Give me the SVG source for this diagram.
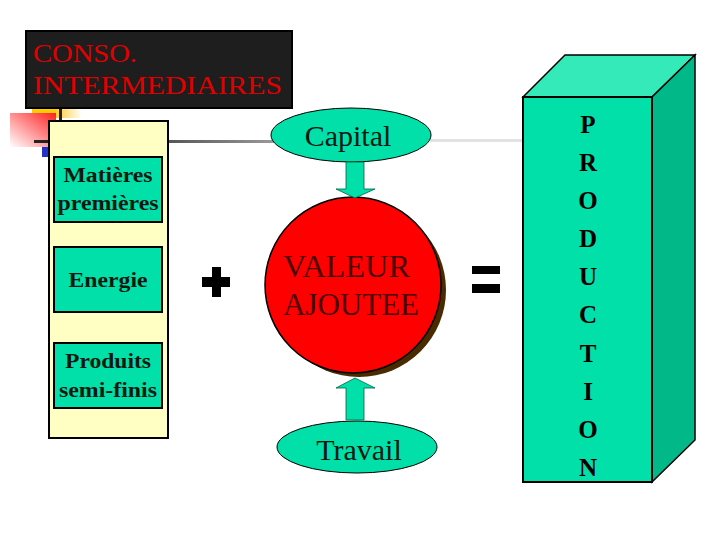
<svg xmlns="http://www.w3.org/2000/svg" width="720" height="540" viewBox="0 0 720 540">
<defs>
<style>
.tnr{font-family:"Liberation Serif","Times New Roman",serif}
.box{fill:#00E0A8;stroke:#000;stroke-width:2}
.lbl{font-family:"Liberation Serif",serif;font-weight:bold;font-size:21px;fill:#0a1a10;text-anchor:middle}
.ell{fill:#00E0A8;stroke:#000;stroke-width:1}
.ar{fill:#00E0A8;stroke:#006040;stroke-width:0.8}
.op{fill:#000}
.pl{font-family:"Liberation Serif",serif;font-weight:bold;font-size:25px;fill:#000;text-anchor:middle}
</style>
<linearGradient id="redg" x1="1" y1="0" x2="0" y2="1">
<stop offset="0" stop-color="#ff2020"/>
<stop offset="1" stop-color="#ffffff"/>
</linearGradient>
<linearGradient id="yelg" x1="0" y1="0" x2="1" y2="0">
<stop offset="0" stop-color="#ffcc33"/>
<stop offset="1" stop-color="#ffffff"/>
</linearGradient>
<linearGradient id="grayL" x1="0" y1="0" x2="1" y2="0">
<stop offset="0" stop-color="#555"/>
<stop offset="1" stop-color="#999"/>
</linearGradient>
</defs>
<rect width="720" height="540" fill="#fff"/>

<g id="decoration">
<rect x="32" y="106" width="24" height="12" fill="#ffcc00"/>
<rect x="56" y="106" width="26" height="12" fill="url(#yelg)"/>
<rect x="10" y="113" width="46" height="34" fill="url(#redg)"/>
<rect x="34" y="140" width="20" height="3" fill="#222"/>
<rect x="42" y="147" width="7" height="10" fill="#2233cc"/>
<rect x="59" y="106" width="3" height="16" fill="#222"/>
<rect x="166" y="140" width="108" height="3" fill="url(#grayL)"/>
<rect x="430" y="139" width="94" height="3" fill="#e2e2e2"/>
</g>

<g id="conso">
<rect x="26" y="31" width="266" height="77" fill="#1e1e1e" stroke="#000" stroke-width="2"/>
<text class="tnr" x="33" y="62" font-size="26" fill="#e00000" textLength="104" lengthAdjust="spacingAndGlyphs">CONSO.</text>
<text class="tnr" x="33" y="94" font-size="26" fill="#e00000" textLength="249" lengthAdjust="spacingAndGlyphs">INTERMEDIAIRES</text>
</g>

<g id="panel">
<rect x="49" y="121" width="119" height="317" fill="#ffffc4" stroke="#000" stroke-width="2"/>
</g>
<g id="matieres">
<rect class="box" x="54" y="157" width="108" height="65"/>
<text class="lbl" x="108" y="182" textLength="89" lengthAdjust="spacingAndGlyphs">Matières</text>
<text class="lbl" x="108" y="210" textLength="101" lengthAdjust="spacingAndGlyphs">premières</text>
</g>
<g id="energie">
<rect class="box" x="54" y="247" width="108" height="65"/>
<text class="lbl" x="108" y="287" textLength="79" lengthAdjust="spacingAndGlyphs">Energie</text>
</g>
<g id="produits">
<rect class="box" x="54" y="343" width="108" height="65"/>
<text class="lbl" x="108" y="368" textLength="86" lengthAdjust="spacingAndGlyphs">Produits</text>
<text class="lbl" x="108" y="397" textLength="98" lengthAdjust="spacingAndGlyphs">semi-finis</text>
</g>

<g id="plus">
<rect class="op" x="212" y="267" width="9" height="30"/>
<rect class="op" x="202" y="277" width="28" height="10"/>
</g>

<g id="valeur">
<circle cx="359" cy="290" r="87" fill="#4a2a00"/>
<circle cx="353" cy="285" r="88" fill="#ff0000" stroke="#000" stroke-width="1.5"/>
<text class="tnr" x="283" y="277" font-size="32" fill="#4a0000" textLength="127" lengthAdjust="spacingAndGlyphs">VALEUR</text>
<text class="tnr" x="283" y="315" font-size="32" fill="#4a0000" textLength="136" lengthAdjust="spacingAndGlyphs">AJOUTEE</text>
</g>

<g id="capital">
<ellipse class="ell" cx="351" cy="135" rx="80" ry="27"/>
<text class="tnr" x="348" y="146" font-size="30" fill="#001a10" text-anchor="middle">Capital</text>
</g>

<g id="travail">
<ellipse class="ell" cx="357" cy="447" rx="80" ry="26"/>
<text class="tnr" x="359" y="460" font-size="30" fill="#001a10" text-anchor="middle">Travail</text>
</g>

<g id="connectors">
<polygon class="ar" points="346,162 364,162 364,189 375,189 355,198 336,189 346,189"/>
<polygon class="ar" points="346,420 364,420 364,388 375,388 355,378 336,388 346,388"/>
</g>

<g id="equals">
<rect class="op" x="472" y="266" width="28" height="8"/>
<rect class="op" x="472" y="284" width="28" height="9"/>
</g>

<g id="production">
<polygon points="523,97 565,55 695,55 652,97" fill="#33EAB8" stroke="#000" stroke-width="1.5"/>
<polygon points="652,97 695,55 695,440 652,482" fill="#00B888" stroke="#000" stroke-width="1.5"/>
<rect x="523" y="97" width="129" height="385" fill="#00E0A8" stroke="#000" stroke-width="2"/>
<text class="pl" x="588" y="133">P</text>
<text class="pl" x="588" y="171">R</text>
<text class="pl" x="588" y="209">O</text>
<text class="pl" x="588" y="247">D</text>
<text class="pl" x="588" y="285">U</text>
<text class="pl" x="588" y="323">C</text>
<text class="pl" x="588" y="362">T</text>
<text class="pl" x="588" y="400">I</text>
<text class="pl" x="588" y="438">O</text>
<text class="pl" x="588" y="476">N</text>
</g>
</svg>
